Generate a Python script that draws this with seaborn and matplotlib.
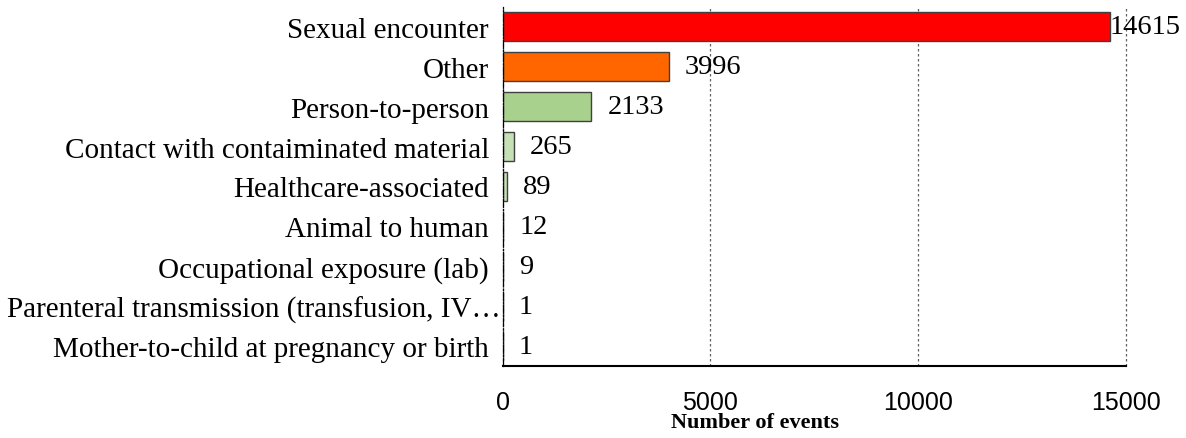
import matplotlib
matplotlib.use('Agg')
import matplotlib.pyplot as plt
import seaborn as sns
import pandas as pd

# data
categories = ['Sexual encounter', 'Other', 'Person-to-person',
              'Contact with contaiminated material', 'Healthcare-associated',
              'Animal to human', 'Occupational exposure (lab)',
              'Parenteral transmission (transfusion, IV\u2026',
              'Mother-to-child at pregnancy or birth']
events = [14615, 3996, 2133, 265, 89, 12, 9, 1, 1]
bar_colors = ['#FF0000', '#FF6600', '#A9D18E', '#C5E0B4', '#C5E0B4',
              '#C5E0B4', '#C5E0B4', '#C5E0B4', '#C5E0B4']
xticks = [0, 5000, 10000, 15000]

df = pd.DataFrame({'category': categories, 'events': events})

sns.set_style('white')
plt.rcParams['font.family'] = ['Liberation Serif', 'DejaVu Serif']
plt.rcParams['text.color'] = 'black'
plt.rcParams['xtick.color'] = 'black'
plt.rcParams['ytick.color'] = 'black'
plt.rcParams['axes.labelcolor'] = 'black'

fig = plt.figure(figsize=(11.86, 4.39), dpi=100)
ax = fig.add_axes([0.424, 0.164, 0.525, 0.818])

sns.barplot(data=df, x='events', y='category', hue='category', palette=bar_colors,
            saturation=1, legend=False, edgecolor='#404040', linewidth=1,
            width=0.72, ax=ax)

ax.set_xlim(0, 15000)
ax.set_xticks(xticks)
ax.set_xticklabels([str(t) for t in xticks], family=['Liberation Sans', 'DejaVu Sans'],
                   fontsize=18)
ax.tick_params(axis='x', direction='out', length=7, width=1.5, pad=10)
ax.tick_params(axis='y', length=0, pad=10, labelsize=21)
ax.set_ylabel('')
ax.set_xlabel('Number of events', fontsize=16, fontweight='bold', labelpad=0)
ax.xaxis.set_label_coords(0.405, -0.128)

# the truncated label sits a little further right in the reference
for lab in ax.get_yticklabels():
    if lab.get_text().endswith('\u2026'):
        lab.set_x(0.019)

ax.grid(axis='x', linestyle=(0, (2, 2)), color='#606060', linewidth=0.9)
ax.grid(axis='y', visible=False)
ax.set_axisbelow(True)
for gl in ax.get_xgridlines():
    gl.set_clip_on(False)

for s in ['top', 'right']:
    ax.spines[s].set_visible(False)
ax.spines['bottom'].set_color('black')
ax.spines['bottom'].set_linewidth(1.5)
ax.spines['left'].set_color('black')
ax.spines['left'].set_linewidth(0.9)
ax.spines['left'].set_linestyle('-.')

for i, v in enumerate(events):
    off = 0 if v == max(events) else 16
    ax.annotate(str(v), (v, i), xytext=(off, 0), textcoords='offset pixels',
                va='center', ha='left', fontsize=20.5, clip_on=False)

fig.savefig('out.png', dpi=100)
